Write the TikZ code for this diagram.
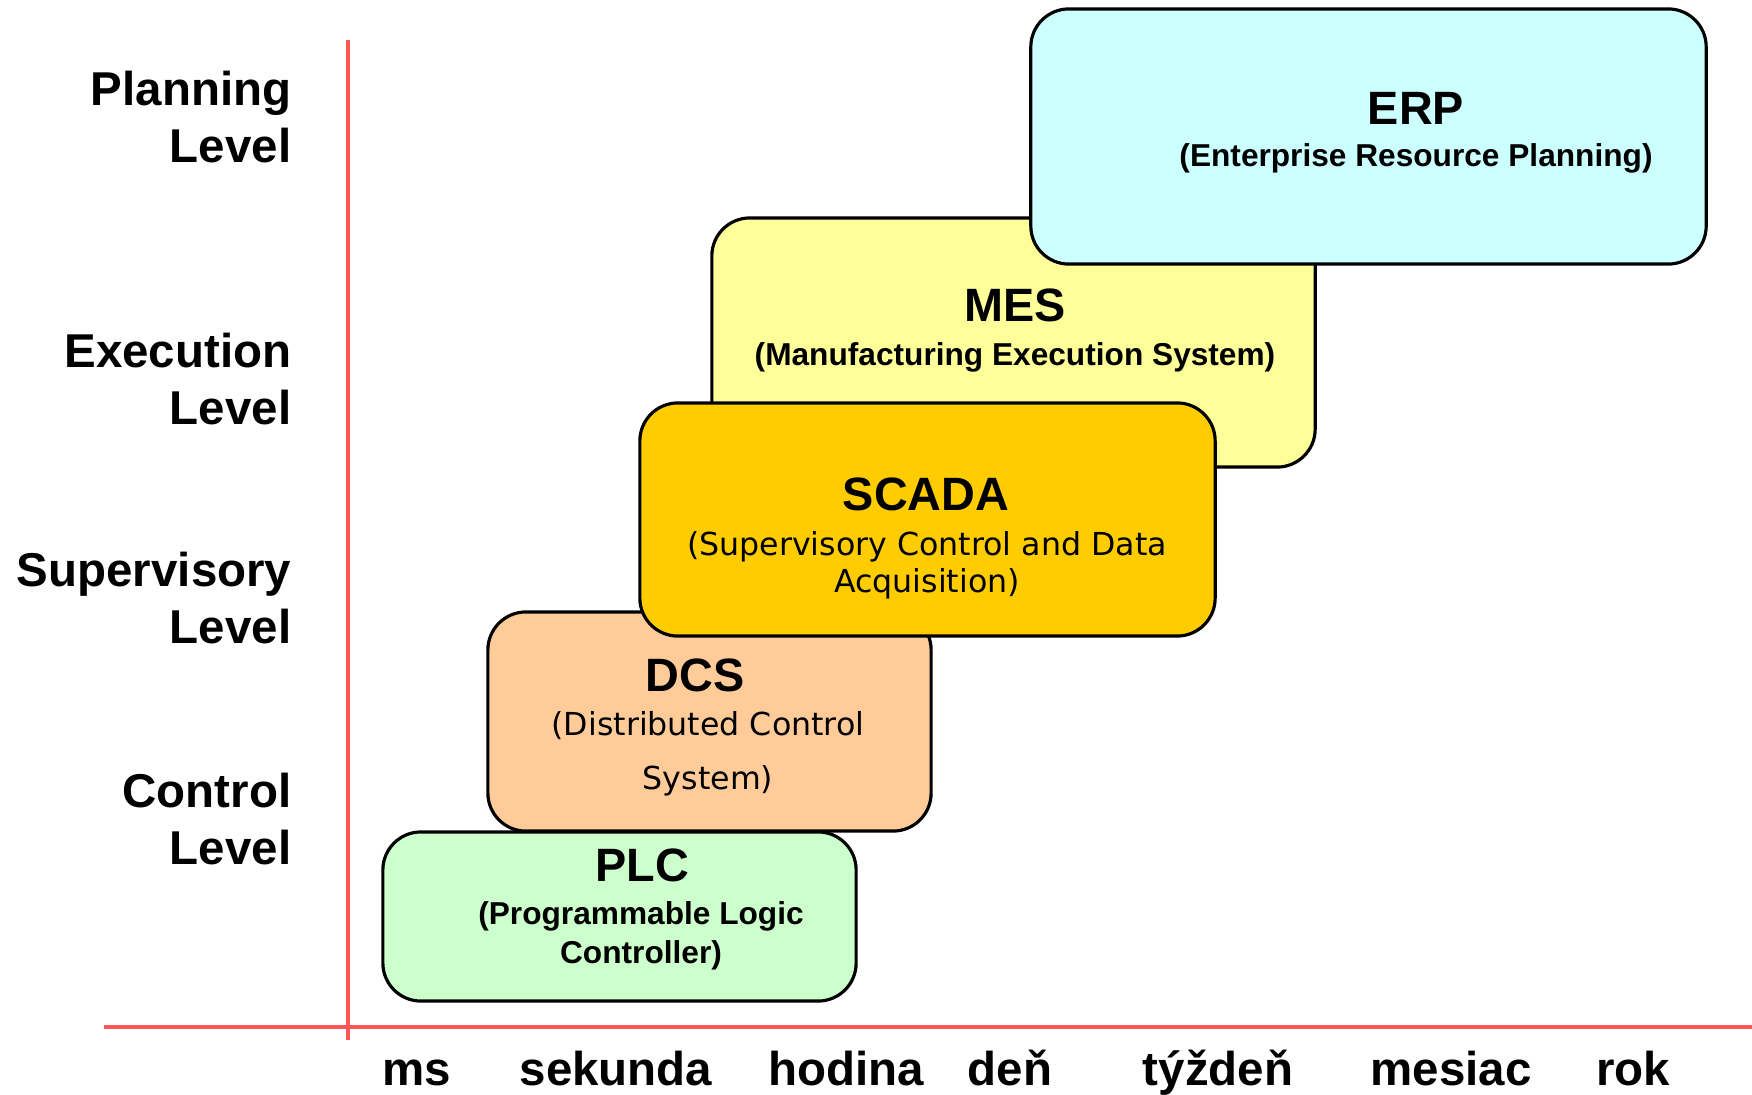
\documentclass[tikz,border=0pt]{standalone}
\usepackage{fontspec}
\setmainfont{Liberation Sans}
\newfontfamily\verdana{DejaVu Sans}
\definecolor{axisred}{HTML}{FF5555}
\definecolor{erpcol}{HTML}{CCFFFF}
\definecolor{mescol}{HTML}{FFFF99}
\definecolor{scadacol}{HTML}{FFCC00}
\definecolor{dcscol}{HTML}{FFCC99}
\definecolor{plccol}{HTML}{CCFFCC}
\begin{document}
\begin{tikzpicture}[x=0.01cm,y=-0.01cm,
    lvllabel/.style={anchor=east,align=right,inner sep=0pt,font=\fontsize{13.5}{16.3}\selectfont\bfseries},
    timelabel/.style={anchor=base,inner sep=0pt,font=\fontsize{13.5}{16}\selectfont\bfseries},
    box/.style={draw,line width=0.9pt,rounded corners=0.38cm,inner sep=0pt},
    boxtitle/.style={inner sep=0pt,font=\fontsize{13.3}{16}\selectfont\bfseries},
    boxsub/.style={inner sep=0pt,align=center,font=\fontsize{9}{11}\selectfont\bfseries}]
    \useasboundingbox (0,0) rectangle (1752,1094);

    % Axes
    \coordinate (vtop) at (348,40);
    \coordinate (vbot) at (348,1040);
    \coordinate (hleft) at (104,1027);
    \coordinate (hright) at (1752,1027);
    \draw[axisred,line width=1.3pt] (vtop) -- (vbot);
    \draw[axisred,line width=1.3pt] (hleft) -- (hright);

    % Levels
    \node[lvllabel] (planning) at (292,117) {Planning\\Level};
    \node[lvllabel] (execution) at (292,379) {Execution\\Level};
    \node[lvllabel] (supervisory) at (292,598) {Supervisory\\Level};
    \node[lvllabel] (control) at (292,819) {Control\\Level};

    % Time scale
    \node[timelabel] (ms) at (417,1085) {ms};
    \node[timelabel] (sekunda) at (616,1085) {sekunda};
    \node[timelabel] (hodina) at (846,1085) {hodina};
    \node[timelabel] (den) at (1010,1085) {deň};
    \node[timelabel] (tyzden) at (1218,1085) {týždeň};
    \node[timelabel] (mesiac) at (1451,1085) {mesiac};
    \node[timelabel] (rok) at (1633,1085) {rok};

    % MES
    \node[box,fill=mescol,minimum width=6.03cm,minimum height=2.49cm] (mes) at (1013.5,342.5) {};
    \node[boxtitle] (mestitle) at (1015,305) {MES};
    \node[boxsub] (messub) at (1015,357.5) {(Manufacturing Execution System)};

    % ERP
    \node[box,fill=erpcol,minimum width=6.75cm,minimum height=2.55cm] (erp) at (1368.5,136.5) {};
    \node[boxtitle] (erptitle) at (1416,108) {ERP};
    \node[boxsub] (erpsub) at (1416,158.5) {(Enterprise Resource Planning)};

    % DCS
    \node[box,fill=dcscol,minimum width=4.43cm,minimum height=2.19cm] (dcs) at (709.5,721.5) {};
    \node[boxtitle] (dcstitle) at (695,675) {DCS};
    \node[boxsub,font=\fontsize{9}{15.3}\selectfont\verdana] (dcssub) at (708,753.5) {(Distributed Control\\System)};

    % SCADA
    \node[box,fill=scadacol,minimum width=5.75cm,minimum height=2.33cm] (scada) at (927.5,519.5) {};
    \node[boxtitle] (scadatitle) at (926,494) {SCADA};
    \node[boxsub,font=\fontsize{9}{10.6}\selectfont\verdana] (scadasub) at (927,565) {(Supervisory Control and Data\\Acquisition)};

    % PLC
    \node[box,fill=plccol,minimum width=4.73cm,minimum height=1.69cm] (plc) at (619.5,916.5) {};
    \node[boxtitle] (plctitle) at (642,865) {PLC};
    \node[boxsub] (plcsub) at (641,935.5) {(Programmable Logic\\Controller)};

\end{tikzpicture}
\end{document}
